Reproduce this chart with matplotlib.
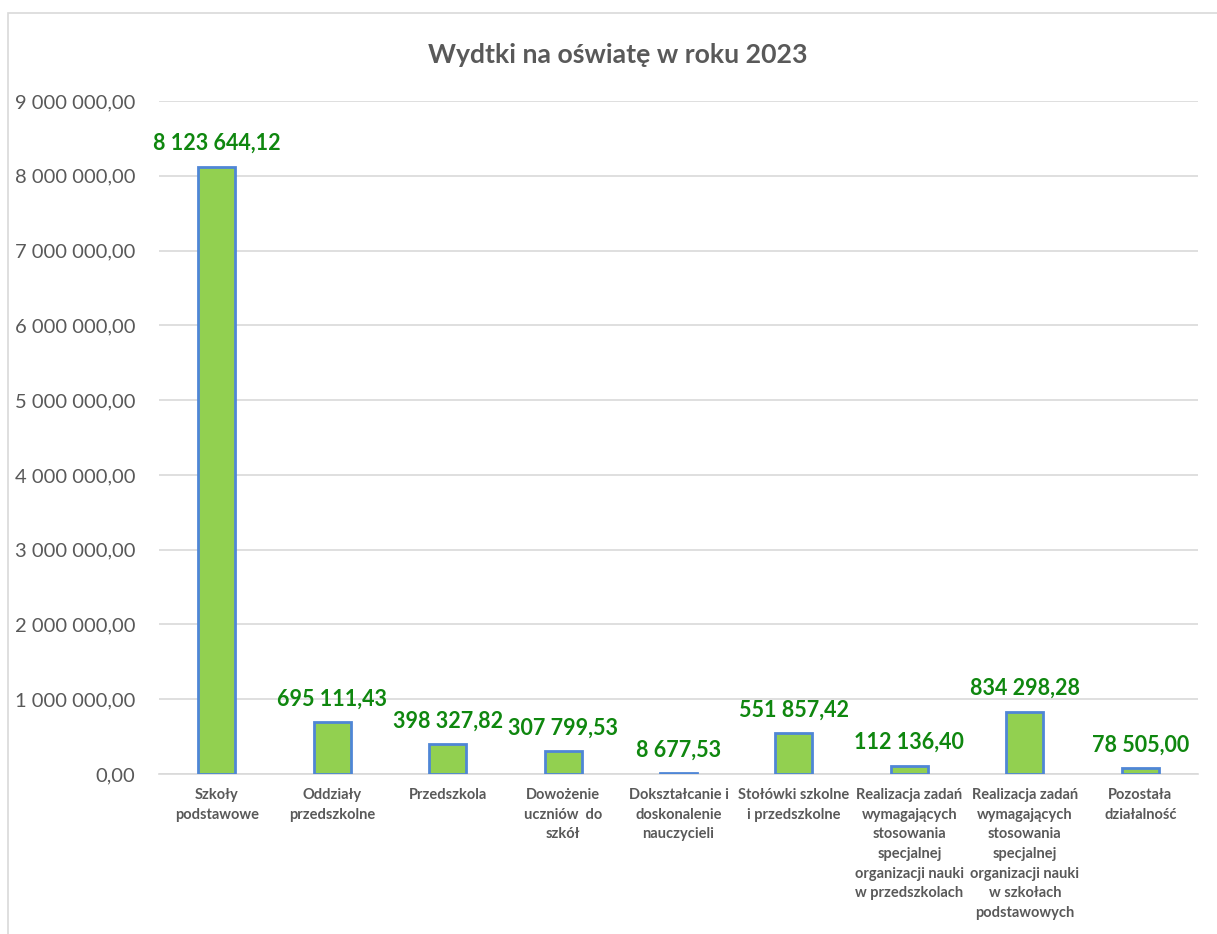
import matplotlib.pyplot as plt
from matplotlib.patches import Rectangle
from matplotlib.ticker import FuncFormatter, MultipleLocator

plt.rcParams['font.family'] = ['Lato', 'DejaVu Sans']

categories = [
    "Szkoły\npodstawowe",
    "Oddziały\nprzedszkolne",
    "Przedszkola",
    "Dowożenie\nuczniów  do\nszkół",
    "Dokształcanie i\ndoskonalenie\nnauczycieli",
    "Stołówki szkolne\ni przedszkolne",
    "Realizacja zadań\nwymagających\nstosowania\nspecjalnej\norganizacji nauki\nw przedszkolach",
    "Realizacja zadań\nwymagających\nstosowania\nspecjalnej\norganizacji nauki\nw szkołach\npodstawowych",
    "Pozostała\ndziałalność",
]
values = [8123644.12, 695111.43, 398327.82, 307799.53, 8677.53,
          551857.42, 112136.40, 834298.28, 78505.00]


def pl_number(v, pos=None):
    return f"{v:,.2f}".replace(",", " ").replace(".", ",")


fig = plt.figure(figsize=(12.17, 9.34), dpi=100)
fig.patches.append(Rectangle((8 / 1217, -0.05), 1.1, (934 - 13) / 934 + 0.05,
                             transform=fig.transFigure, fill=False,
                             edgecolor="#D9D9D9", linewidth=1.2))

ax = fig.add_axes([159 / 1217, (934 - 774) / 934, 1039 / 1217, 673 / 934])
x = range(len(categories))
ax.bar(x, values, width=0.32, color="#92D050", edgecolor="#4F86D6",
       linewidth=2, zorder=3)

for xi, v in zip(x, values):
    ax.annotate(pl_number(v), (xi, v), xytext=(0, 9), textcoords="offset points",
                ha="center", va="bottom", fontsize=15.5, fontweight="bold",
                color="#0F870F", zorder=4)

ax.set_xlim(-0.5, len(categories) - 0.5)
ax.set_ylim(0, 9000000)
ax.yaxis.set_major_locator(MultipleLocator(1000000))
ax.yaxis.set_major_formatter(FuncFormatter(pl_number))
ax.grid(axis="y", color="#D9D9D9", linewidth=1.2, zorder=0)

ax.set_xticks(list(x))
ax.set_xticklabels(categories, fontsize=10.5, fontweight="bold", color="#595959",
                   linespacing=1.52, va="top")
ax.tick_params(axis="x", length=0, pad=10)
ax.tick_params(axis="y", length=0, labelsize=14.5, labelcolor="#595959", pad=17)

for side in ["top", "right", "left"]:
    ax.spines[side].set_visible(False)
ax.spines["bottom"].set_color("#D9D9D9")
ax.spines["bottom"].set_linewidth(1.2)

fig.text(618 / 1217, 1 - 55 / 934, "Wydtki na oświatę w roku 2023", ha="center",
         va="center", fontsize=19.2, fontweight="bold", color="#595959")

fig.savefig("out.png", dpi=100)
